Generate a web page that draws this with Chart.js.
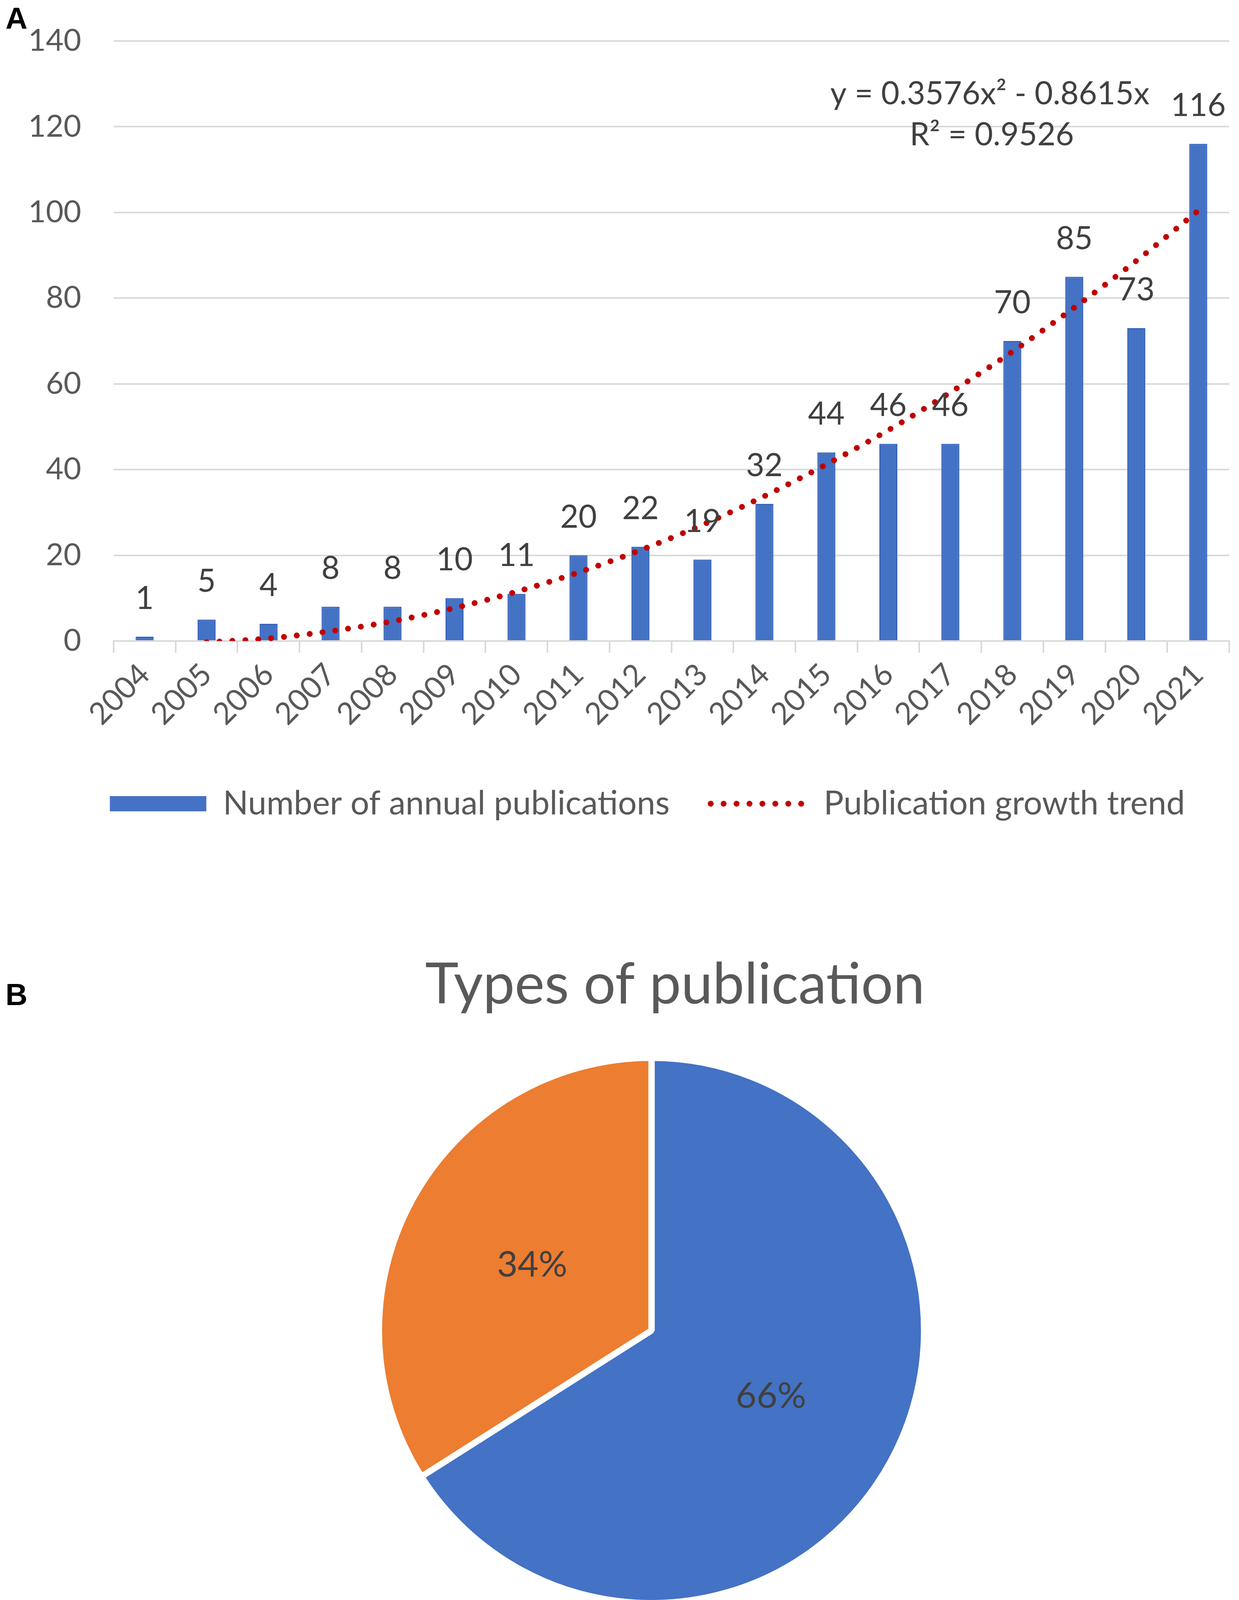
<!DOCTYPE html>
<html>
<head>
<meta charset="utf-8">
<script src="https://cdn.jsdelivr.net/npm/chart.js@4.4.0/dist/chart.umd.min.js"></script>
<style>
  html, body { margin: 0; padding: 0; background: #fff; }
  body { width: 3173px; height: 4354px; position: relative; overflow: hidden; }
  .panel { position: absolute; font-family: "Liberation Sans", Arial, sans-serif; font-weight: bold; font-size: 78px; line-height: 1; color: #000; }
  #yearChart { position: absolute; left: 0; top: 0; }
  #typeChart { position: absolute; left: 0; top: 2250px; }
</style>
</head>
<body>
<div class="panel" style="left:14px;top:8px;">A</div>
<div class="panel" style="left:14px;top:2507px;">B</div>
<canvas id="yearChart" width="3173" height="2200"></canvas>
<canvas id="typeChart" width="3173" height="2104"></canvas>
<script>
// panel A data
const years = ['2004', '2005', '2006', '2007', '2008', '2009', '2010', '2011', '2012',
    '2013', '2014', '2015', '2016', '2017', '2018', '2019', '2020', '2021'];
const publications = [1, 5, 4, 8, 8, 10, 11, 20, 22, 19, 32, 44, 46, 46, 70, 85, 73, 116];
// dotted trend line at each year
const trend = [null, -0.3, 0.6, 2.3, 4.6, 7.7, 11.5, 16.0, 21.2, 27.1, 33.8, 41.2, 49.2, 58.0, 67.5, 77.8, 88.7, 100.4];
const yTicks = [0, 20, 40, 60, 80, 100, 120, 140];
const trendEquation = ['y = 0.3576x\u00B2 - 0.8615x', 'R\u00B2 = 0.9526'];

// panel B data
const typeLabels = ['Article', 'Review'];
const typeShares = [66, 34];

const FONT = 'Lato, "Open Sans", sans-serif';
const grey = '#595959';
const dark = '#404040';

// nudges a centred block (legend / title) sideways after layout
function shiftBlock(id, getBox, dx) {
    return {
        id: id,
        afterLayout(chart) {
            const box = getBox(chart);
            if (box) { box.left += 2 * dx; }
        }
    };
}

const barValueLabels = {
    id: 'barValueLabels',
    afterDatasetsDraw(chart) {
        const ctx = chart.ctx;
        const meta = chart.getDatasetMeta(0);
        ctx.save();
        ctx.font = '81px ' + FONT;
        ctx.fillStyle = dark;
        ctx.textAlign = 'center';
        ctx.textBaseline = 'middle';
        meta.data.forEach(function (bar, i) {
            ctx.fillText(publications[i], bar.x, bar.y - 97);
        });
        // equation of the trend line
        ctx.fillText(trendEquation[0], 2535, 241);
        ctx.fillText(trendEquation[1], 2540, 346);
        ctx.restore();
    }
};

const pieLabels = {
    id: 'pieLabels',
    afterDatasetsDraw(chart) {
        const ctx = chart.ctx;
        const meta = chart.getDatasetMeta(0);
        ctx.save();
        ctx.font = '92px ' + FONT;
        ctx.fillStyle = dark;
        ctx.textAlign = 'center';
        ctx.textBaseline = 'middle';
        meta.data.forEach(function (arc, i) {
            const p = arc.getCenterPoint();
            ctx.fillText(typeShares[i] + '%', p.x, p.y);
        });
        ctx.restore();
    }
};

new Chart(document.getElementById('yearChart'), {
    type: 'bar',
    data: {
        labels: years,
        datasets: [{
            type: 'bar',
            label: 'Number of annual publications',
            data: publications,
            backgroundColor: '#4472C4',
            borderColor: '#3563B9',
            borderWidth: 3,
            barPercentage: 0.29,
            categoryPercentage: 1,
            order: 1
        }, {
            type: 'line',
            label: 'Publication growth trend',
            data: trend,
            borderColor: '#C00000',
            backgroundColor: '#C00000',
            borderWidth: 15,
            borderDash: [0.1, 33],
            borderCapStyle: 'round',
            pointRadius: 0,
            tension: 0.3,
            clip: 0,
            order: 0
        }]
    },
    options: {
        responsive: false,
        devicePixelRatio: 1,
        animation: false,
        layout: { padding: { left: 0, right: 25, top: 105, bottom: 90 } },
        scales: {
            x: {
                offset: true,
                grid: { display: true, drawOnChartArea: false, offset: true, tickLength: 30, color: '#D9D9D9', lineWidth: 4 },
                border: { display: true, color: '#D9D9D9', width: 4 },
                ticks: { color: grey, font: { size: 78, family: FONT }, minRotation: 45, maxRotation: 45, padding: 10, autoSkip: false },
                afterFit: function (scale) { scale.height = 269; }
            },
            y: {
                min: 0,
                max: 140,
                afterBuildTicks: function (scale) { scale.ticks = yTicks.map(v => ({ value: v })); },
                ticks: { color: grey, font: { size: 78, family: FONT }, padding: 3 },
                grid: { color: '#D9D9D9', lineWidth: 4, drawTicks: true, tickLength: 80, tickColor: 'rgba(0,0,0,0)' },
                border: { display: false },
                afterFit: function (scale) { scale.width = 291; }
            }
        },
        plugins: {
            legend: {
                position: 'bottom',
                labels: {
                    usePointStyle: true,
                    pointStyleWidth: 247,
                    boxHeight: 39,
                    padding: 105,
                    color: grey,
                    font: { size: 85, family: FONT },
                    generateLabels: function (chart) {
                        return chart.data.datasets.map(function (ds, i) {
                            const isLine = ds.type === 'line';
                            return {
                                text: ds.label,
                                datasetIndex: i,
                                fillStyle: ds.backgroundColor,
                                strokeStyle: ds.borderColor || ds.backgroundColor,
                                lineWidth: isLine ? ds.borderWidth : 0,
                                lineDash: isLine ? ds.borderDash : [],
                                lineCap: isLine ? ds.borderCapStyle : 'butt',
                                pointStyle: isLine ? 'line' : 'rect',
                                fontColor: grey,
                                hidden: false
                            };
                        });
                    }
                }
            },
            tooltip: { enabled: false }
        }
    },
    plugins: [barValueLabels, shiftBlock('legendShiftA', c => c.legend, 84)]
});

new Chart(document.getElementById('typeChart'), {
    type: 'pie',
    data: {
        labels: typeLabels,
        datasets: [{
            data: typeShares,
            backgroundColor: ['#4472C4', '#ED7D31'],
            borderColor: '#FFFFFF',
            borderWidth: 16,
            radius: 698
        }]
    },
    options: {
        responsive: false,
        devicePixelRatio: 1,
        animation: false,
        layout: { padding: { left: 164, right: 0, top: 0, bottom: 4 } },
        plugins: {
            title: {
                display: true,
                text: 'Types of publication',
                color: grey,
                font: { size: 145, family: FONT, weight: 'normal' },
                padding: { top: 185, bottom: 51 }
            },
            legend: {
                position: 'bottom',
                labels: {
                    boxWidth: 36,
                    boxHeight: 38,
                    padding: 100,
                    color: grey,
                    font: { size: 88, family: FONT }
                }
            },
            tooltip: { enabled: false }
        }
    },
    plugins: [pieLabels,
        shiftBlock('titleShiftB', c => c.titleBlock, 60),
        shiftBlock('legendShiftB', c => c.legend, 29)]
});
</script>
</body>
</html>
